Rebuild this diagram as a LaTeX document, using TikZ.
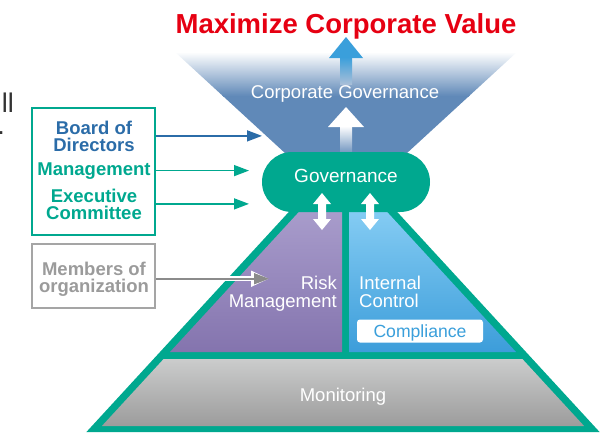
\documentclass[tikz,border=0pt]{standalone}
\usepackage{fontspec}
\setmainfont{Liberation Sans}
\usetikzlibrary{arrows.meta, positioning, calc}
\definecolor{govTeal}{RGB}{0,168,143}
\definecolor{bodBlue}{RGB}{43,108,168}
\definecolor{funnelBlue}{RGB}{96,137,184}
\definecolor{upBlue}{RGB}{58,159,219}
\definecolor{titleRed}{RGB}{230,0,18}
\definecolor{memGray}{RGB}{155,155,155}
\definecolor{riskTop}{RGB}{169,157,204}
\definecolor{riskBot}{RGB}{132,116,174}
\definecolor{icTop}{RGB}{134,205,244}
\definecolor{icBot}{RGB}{60,157,218}
\definecolor{monTop}{RGB}{203,204,204}
\definecolor{monBot}{RGB}{156,156,156}

\begin{document}
\begin{tikzpicture}[x=1pt, y=-1pt,
    wtxt/.style={font=\fontsize{18.5}{18}\selectfont, text=white, inner sep=0pt},
    lead/.style={font=\bfseries\fontsize{18.5}{17}\selectfont, align=center, inner sep=0pt},
    leadbox/.style={rectangle, line width=2pt, minimum width=123pt},
    govpill/.style={rectangle, rounded corners=30pt, fill=govTeal, minimum width=168pt, minimum height=60pt,
        text=white, font=\fontsize{19}{20}\selectfont, text height=14pt, text depth=14pt},
    arr/.style={-{Triangle[length=15pt, width=11pt]}, line width=1.5pt},
]
\useasboundingbox (0,0) rectangle (611,432);

% ========== cut-off text at the left edge ==========
\node[font=\fontsize{27}{30}\selectfont, text=black!80, anchor=base east, inner sep=0pt] (frag1) at (14,112) {ll};
\node[font=\fontsize{27}{30}\selectfont, text=black!80, anchor=base east, inner sep=0pt] (frag2) at (5,134) {.};

% ========== TITLE ==========
\node[font=\bfseries\fontsize{27.5}{30}\selectfont, text=titleRed, anchor=base, inner sep=0pt] (title) at (346,33) {Maximize Corporate Value};

% ========== FUNNEL (corporate governance) ==========
\begin{scope}
  \clip (175,52) -- (517,52) -- (394,165) -- (298,165) -- cycle;
  \fill[funnelBlue] (170,95) rectangle (520,170);
  \shade[top color=white, bottom color=funnelBlue] (170,52) rectangle (520,96);
\end{scope}
\node[wtxt, anchor=base] (cgov) at (345,98) {Corporate Governance};

% blue arrow to the title
\fill[upBlue] (346,37) -- (363,58) -- (329,58) -- cycle;
\shade[top color=upBlue, bottom color=funnelBlue!55] (340,57) rectangle (352,84);
% white arrow
\fill[white] (346,107) -- (364,127) -- (328,127) -- cycle;
\shade[top color=white, bottom color=funnelBlue] (340,126) rectangle (352,156);

% ========== PYRAMID ==========
\fill[govTeal] (299.8,200) -- (386.2,200) -- (599.6,432) -- (86.4,432) -- cycle;
\shade[top color=riskTop, bottom color=riskBot] (302.5,208) -- (342,208) -- (342,352) -- (170,352) -- cycle;
\shade[top color=icTop, bottom color=icBot] (349,208) -- (383.5,208) -- (516,352) -- (349,352) -- cycle;
\shade[top color=monTop, bottom color=monBot] (163.6,359) -- (522.4,359) -- (584.1,426) -- (101.9,426) -- cycle;

\node[govpill] (gov) at (346,182) {Governance};

% up/down arrows between governance and the two blocks
\foreach \ax in {322,370}
  \fill[white] (\ax,193) -- ++(9,11) -- ++(-5,0) -- ++(0,15) -- ++(5,0) -- (\ax,230)
     -- ++(-9,-11) -- ++(5,0) -- ++(0,-15) -- ++(-5,0) -- cycle;

\node[wtxt, align=right, anchor=base east] (risk) at (337,307) {Risk\\Management};
\node[wtxt, align=left, anchor=base west] (ictrl) at (359,307) {Internal\\Control};
\node[rectangle, fill=white, rounded corners=3pt, minimum width=126pt, minimum height=23pt, inner sep=0pt,
      text=upBlue, font=\fontsize{17.6}{18}\selectfont, text depth=0pt] (compl) at (420,331) {Compliance};
\node[wtxt, anchor=base] (monit) at (343,401) {Monitoring};

% ========== LEFT BOXES ==========
\node[leadbox, draw=govTeal, minimum height=127pt] (leaders) at (93.5,171.5) {};
\node[lead, text=bodBlue, anchor=base] (bod) at (94,151) {Board of\\Directors};
\node[lead, text=govTeal, anchor=base] (mgmt) at (94,175) {Management};
\node[lead, text=govTeal, anchor=base] (exec) at (94,219) {Executive\\Committee};

\node[leadbox, draw=memGray!90, minimum height=64pt] (members) at (93.5,276) {};
\node[lead, text=memGray, anchor=base] (memtxt) at (94,292) {Members of\\organization};

% arrow ends
\coordinate (funnelL) at (262,0);
\coordinate (pillL) at (249,0);
\coordinate (riskL) at (269,0);

\draw[arr, bodBlue] (leaders.east |- bod) -- (bod -| funnelL);
\draw[arr, govTeal] (leaders.east |- mgmt) -- (mgmt -| pillL);
\draw[arr, govTeal] (leaders.east |- exec) -- (exec -| pillL);
\draw[arr, memGray!90!black, preaction={draw=white, line width=5pt, -{Triangle[length=18pt, width=15pt]}}]
  (members.east |- memtxt) -- (memtxt -| riskL);

\end{tikzpicture}
\end{document}
